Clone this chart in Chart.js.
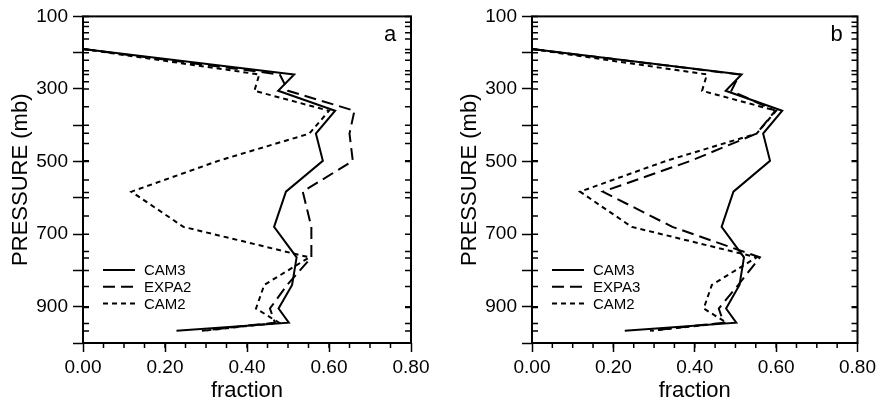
<!DOCTYPE html>
<html><head><meta charset="utf-8">
<script src="https://cdn.jsdelivr.net/npm/chart.js@4.4.0/dist/chart.umd.min.js"></script>
<style>
html,body{margin:0;padding:0;background:#fff;width:880px;height:404px;overflow:hidden}
#ca{position:absolute;left:0;top:0}
#cb{position:absolute;left:449px;top:0}
</style></head><body>
<canvas id="ca" width="440" height="404"></canvas>
<canvas id="cb" width="431" height="404"></canvas>
<script>
// pressure levels (mb) of the profile points
const LEVELS = [190, 260, 305, 360, 423, 498, 583, 680, 764, 840, 905, 944, 966];
// fraction values
const CAM3  = [0.0, 0.515, 0.476, 0.615, 0.568, 0.585, 0.495, 0.466, 0.521, 0.510, 0.477, 0.502, 0.228];
const CAM2  = [0.0, 0.430, 0.418, 0.600, 0.552, 0.330, 0.118, 0.245, 0.552, 0.442, 0.422, 0.478, 0.295];
const EXPA2 = [0.0, 0.480, 0.500, 0.662, 0.650, 0.658, 0.536, 0.557, 0.557, 0.498, 0.456, 0.468, 0.290];
const EXPA3 = [0.0, 0.510, 0.490, 0.598, 0.552, 0.390, 0.174, 0.345, 0.560, 0.507, 0.459, 0.471, 0.290];
// axis ticks
const X_LABELS = [0, 0.2, 0.4, 0.6, 0.8];
const X_MINOR_STEP = 0.05;
const Y_MAJOR = [100, 200, 300, 400, 500, 600, 700, 800, 900, 1000];
const Y_LABELS = [100, 300, 500, 700, 900];
const Y_MINOR = [116, 128, 145, 162, 191, 221, 250, 260, 280, 349, 422, 450, 498, 551, 585, 650, 748, 766, 844, 902, 946, 967];

Chart.defaults.font.family = '"Liberation Sans", Arial, Helvetica, sans-serif';
Chart.defaults.color = '#000';

function pts(vals){ return LEVELS.map((p,i)=>({x: vals[i], y: p})); }

const framePlugin = {
  id: 'frame',
  afterDraw(chart, args, opts){
    const {ctx, chartArea:{left,right,top,bottom}, scales:{x,y}} = chart;
    ctx.save();
    ctx.strokeStyle = '#000';
    ctx.lineWidth = 1.5;
    ctx.beginPath();
    Y_MAJOR.forEach(p => {
      const py = y.getPixelForValue(p);
      ctx.moveTo(left, py); ctx.lineTo(left + 6, py);
      ctx.moveTo(right, py); ctx.lineTo(right - 6, py);
    });
    Y_MINOR.forEach(p => {
      const py = y.getPixelForValue(p);
      ctx.moveTo(left, py); ctx.lineTo(left + 6, py);
      ctx.moveTo(right, py); ctx.lineTo(right - 6, py);
    });
    for (let v = X_MINOR_STEP; v < 0.8; v += X_MINOR_STEP) {
      const px = x.getPixelForValue(v);
      ctx.moveTo(px, bottom); ctx.lineTo(px, bottom + 5);
    }
    ctx.stroke();
    ctx.lineWidth = 2;
    ctx.strokeRect(left, top, right - left, bottom - top);
    // panel letter
    ctx.fillStyle = '#000';
    ctx.font = '22px "Liberation Sans", Arial, sans-serif';
    ctx.textAlign = 'center';
    ctx.textBaseline = 'middle';
    ctx.fillText(opts.letter, right - 21, top + 19);
    // legend
    ctx.font = '15px "Liberation Sans", Arial, sans-serif';
    ctx.textAlign = 'left';
    chart.data.datasets.forEach((ds, i) => {
      const ly = 270 + i * 16.7;
      ctx.beginPath();
      ctx.setLineDash(ds.borderDash || []);
      ctx.lineWidth = 2;
      ctx.moveTo(left + 20, ly); ctx.lineTo(left + 52, ly);
      ctx.stroke();
      ctx.setLineDash([]);
      ctx.fillText(ds.label, left + 61, ly + 1);
    });
    ctx.restore();
  }
};

function makeChart(id, letter, expName, expVals, rightWidth){
  return new Chart(document.getElementById(id), {
    type: 'line',
    data: {
      datasets: [
        {label: 'CAM3', data: pts(CAM3), borderColor: '#000', borderWidth: 2, borderDash: []},
        {label: expName, data: pts(expVals), borderColor: '#000', borderWidth: 2, borderDash: [12, 6]},
        {label: 'CAM2', data: pts(CAM2), borderColor: '#000', borderWidth: 2, borderDash: [5, 4]}
      ]
    },
    options: {
      responsive: false,
      animation: false,
      devicePixelRatio: 1,
      layout: {padding: {top: 16, left: 0, right: 0, bottom: 0}},
      elements: {point: {radius: 0, hoverRadius: 0}, line: {tension: 0, fill: false}},
      plugins: {legend: {display: false}, tooltip: {enabled: false}, frame: {letter}},
      scales: {
        x: {
          type: 'linear', position: 'bottom', min: 0, max: 0.8,
          afterBuildTicks: s => { s.ticks = X_LABELS.map(v => ({value: v})); },
          ticks: {callback: v => Number(v).toFixed(2), font: {size: 19}, padding: 4, maxRotation: 0, color: '#000'},
          grid: {display: true, drawOnChartArea: false, drawTicks: true, tickLength: 9, tickColor: '#000', tickWidth: 1.5},
          border: {display: false},
          title: {display: true, text: 'fraction', font: {size: 22}, padding: {top: 0, bottom: 0}, color: '#000'},
          afterFit: s => { s.height = 61; }
        },
        y: {
          type: 'linear', position: 'left', min: 100, max: 1000, reverse: true,
          afterBuildTicks: s => { s.ticks = Y_MAJOR.map(v => ({value: v})); },
          ticks: {callback: v => Y_LABELS.includes(v) ? String(v) : '', font: {size: 19}, padding: 5, color: '#000'},
          grid: {display: true, drawOnChartArea: false, drawTicks: true, tickLength: 10, tickColor: '#000', tickWidth: 1.5},
          border: {display: false},
          title: {display: true, text: 'PRESSURE (mb)', font: {size: 22}, padding: {top: 8, bottom: 0}, color: '#000'},
          afterFit: s => { s.width = 83; }
        },
        y2: {
          type: 'linear', position: 'right', min: 100, max: 1000, reverse: true,
          ticks: {display: false},
          grid: {display: false, drawTicks: false},
          border: {display: false},
          afterFit: s => { s.width = rightWidth; }
        }
      }
    },
    plugins: [framePlugin]
  });
}

makeChart('ca', 'a', 'EXPA2', EXPA2, 29);
makeChart('cb', 'b', 'EXPA3', EXPA3, 21);
</script>
</body></html>
